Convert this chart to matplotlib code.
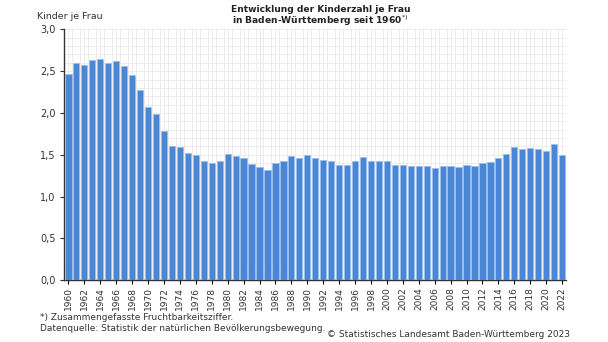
import numpy as np
import matplotlib
matplotlib.use("Agg")
import matplotlib.pyplot as plt
from matplotlib.ticker import FuncFormatter, MultipleLocator

years = list(range(1960, 2023))
kinder = [2.47, 2.60, 2.58, 2.63, 2.65, 2.60, 2.62, 2.56, 2.45, 2.28,
          2.07, 1.99, 1.79, 1.61, 1.59, 1.52, 1.50, 1.43, 1.40, 1.42,
          1.51, 1.49, 1.46, 1.39, 1.35, 1.32, 1.40, 1.42, 1.48, 1.46,
          1.50, 1.46, 1.44, 1.43, 1.38, 1.38, 1.43, 1.47, 1.43, 1.42,
          1.42, 1.38, 1.38, 1.37, 1.37, 1.36, 1.34, 1.37, 1.37, 1.35,
          1.38, 1.36, 1.40, 1.41, 1.46, 1.51, 1.59, 1.57, 1.58, 1.57,
          1.55, 1.63, 1.50]
year_labels = [str(y) for y in years[::2]]

plt.rcParams['font.family'] = 'DejaVu Sans'

fig = plt.figure(figsize=(6.08, 3.42), dpi=100)
ax = fig.add_axes([0.106, 0.181, 0.825, 0.733])

ax.bar(years, kinder, width=0.78, color='#4a86d6', edgecolor='#9dbfea',
       linewidth=0.6, zorder=3)

ax.set_xlim(1959.5, 2022.5)
ax.set_ylim(0, 3.0)

# grid
ax.set_yticks(np.arange(0, 3.01, 0.5))
ax.yaxis.set_minor_locator(MultipleLocator(0.1))
ax.set_xticks(years[::2])
ax.set_xticklabels(year_labels, rotation=90, fontsize=6.5, color='#333333')
ax.set_xticks([y + 0.5 for y in years[:-1]] + [1959.5], minor=True)
ax.grid(which='both', color='#ececec', linewidth=0.7, zorder=0)
ax.set_axisbelow(True)

ax.yaxis.set_major_formatter(FuncFormatter(lambda v, p: f"{v:.1f}".replace('.', ',')))
ax.tick_params(axis='y', labelsize=7, colors='#333333', length=3, width=0.8)
ax.tick_params(axis='y', which='minor', length=0)
ax.tick_params(axis='x', which='major', length=3, width=0.8, pad=2)
ax.tick_params(axis='x', which='minor', length=0)

for s in ['top', 'right']:
    ax.spines[s].set_visible(False)
for s in ['left', 'bottom']:
    ax.spines[s].set_color('#333333')
    ax.spines[s].set_linewidth(1.0)

fig.text(0.061, 0.953, "Kinder je Frau", fontsize=6.8, color='#333333', va='center')
fig.text(0.527, 0.972, "Entwicklung der Kinderzahl je Frau", fontsize=6.6,
         fontweight='bold', ha='center', va='center', color='#222222')
fig.text(0.527, 0.94, r"in Baden-Württemberg seit 1960$^{*)}$", fontsize=6.6,
         fontweight='bold', ha='center', va='center', color='#222222')

fig.text(0.066, 0.073, "*) Zusammengefasste Fruchtbarkeitsziffer.", fontsize=6.5,
         color='#333333', va='center')
fig.text(0.066, 0.04, "Datenquelle: Statistik der natürlichen Bevölkerungsbewegung.",
         fontsize=6.5, color='#333333', va='center')
fig.text(0.937, 0.022, "© Statistisches Landesamt Baden-Württemberg 2023", fontsize=6.5,
         color='#333333', ha='right', va='center')

fig.savefig("out.png", dpi=100)
